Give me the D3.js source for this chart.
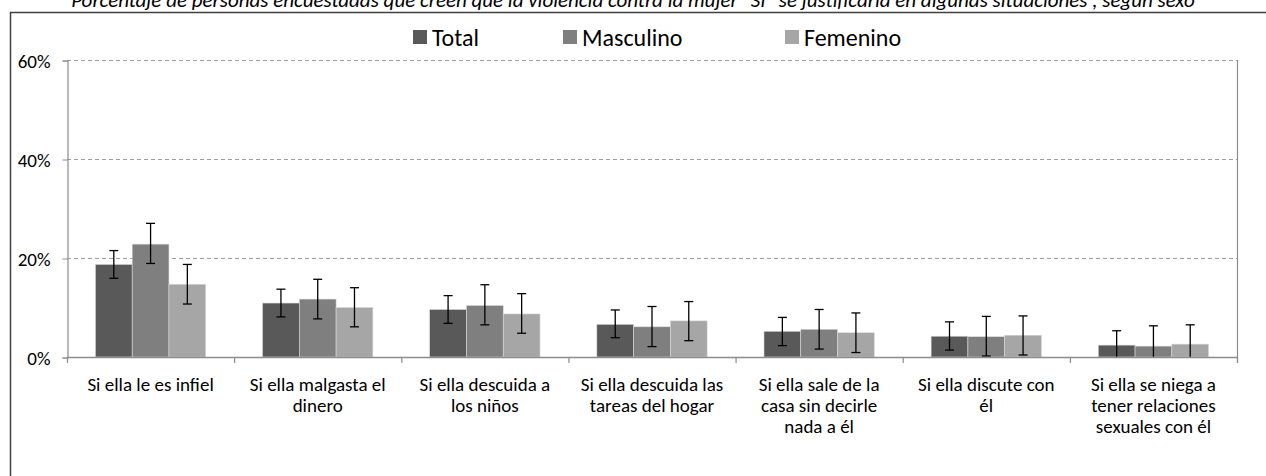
<!DOCTYPE html>
<html><head><meta charset="utf-8">
<script src="https://cdn.jsdelivr.net/npm/d3@7"></script>
<style>
body{margin:0;background:#fff;}
svg{display:block;font-family:Carlito,Calibri,Lato,"Open Sans",sans-serif;}
</style></head>
<body><svg id="c" width="1266" height="476"></svg>
<script>
const title = 'Porcentaje de personas encuestadas que creen que la violencia contra la mujer "SI" se justificaría en algunas situaciones , según sexo';
const categories = [
  "Si ella le es infiel",
  "Si ella malgasta el\ndinero",
  "Si ella descuida a\nlos niños",
  "Si ella descuida las\ntareas del hogar",
  "Si ella sale de la\ncasa sin decirle\nnada a él",
  "Si ella discute con\nél",
  "Si ella se niega a\ntener relaciones\nsexuales con él"
];
const series = ["Total", "Masculino", "Femenino"];
const total     = [18.7, 10.9, 9.6, 6.6, 5.2, 4.2, 2.4];
const masculino = [22.8, 11.7, 10.4, 6.1, 5.6, 4.1, 2.2];
const femenino  = [14.7, 10.0, 8.7, 7.3, 4.9, 4.4, 2.6];
const totalLow  = [15.9, 8.1, 6.8, 3.9, 2.3, 1.4, 0];
const totalHigh = [21.5, 13.7, 12.4, 9.5, 8.0, 7.1, 5.3];
const mascLow   = [18.9, 7.7, 6.5, 2.1, 1.6, 0.2, 0];
const mascHigh  = [27.0, 15.7, 14.6, 10.2, 9.6, 8.2, 6.3];
const femLow    = [10.7, 6.1, 4.8, 3.3, 0.9, 0.4, 0];
const femHigh   = [18.7, 14.0, 12.8, 11.2, 8.9, 8.3, 6.5];
const yTicks = [0, 20, 40, 60];
const colors = ["#595959", "#7f7f7f", "#a6a6a6"];

const values = [total, masculino, femenino];
const lows = [totalLow, mascLow, femLow];
const highs = [totalHigh, mascHigh, femHigh];

const svg = d3.select("#c");
const L = 67, R = 1237, T = 60, B = 357;

// outer border
svg.append("rect").attr("x", 10.5).attr("y", 12.5).attr("width", 1300).attr("height", 500)
  .attr("fill", "none").attr("stroke", "#404040").attr("stroke-width", 1.5);

// title
svg.append("text").attr("x", 633).attr("y", 7).attr("text-anchor", "middle")
  .attr("font-style", "italic").attr("font-size", 21).attr("fill", "#000").text(title);

const x = d3.scaleBand().domain(categories).range([L, R]).paddingInner(0.34).paddingOuter(0.17);
const xs = d3.scaleBand().domain(series).range([0, x.bandwidth()]);
const y = d3.scaleLinear().domain([0, 60]).range([B, T]);

// gridlines
svg.append("g").selectAll("line").data(yTicks.filter(d => d > 0)).join("line")
  .attr("x1", L).attr("x2", R).attr("y1", d => y(d) + 0.5).attr("y2", d => y(d) + 0.5)
  .attr("stroke", "#a0a0a0").attr("stroke-width", 1).attr("stroke-dasharray", "4,3");

// right plot border
svg.append("line").attr("x1", R + 0.5).attr("x2", R + 0.5).attr("y1", T).attr("y2", B + 6)
  .attr("stroke", "#8c8c8c").attr("stroke-width", 1.2);

// y axis
const yAxis = d3.axisLeft(y).tickValues(yTicks).tickSize(5).tickFormat(d => d + "%");
const gy = svg.append("g").attr("transform", `translate(${L + 0.5},0.5)`).call(yAxis);
gy.select(".domain").attr("stroke", "#8c8c8c").attr("stroke-width", 1.2);
gy.selectAll(".tick line").attr("stroke", "#8c8c8c");
gy.selectAll(".tick text").attr("font-size", 19).attr("fill", "#000")
  .attr("font-family", "Carlito,Calibri,Lato,sans-serif").attr("x", -17).attr("dy", "0.35em");

// bars
const step = x.step();
const groups = svg.append("g").selectAll("g").data(categories).join("g")
  .attr("transform", c => `translate(${x(c)},0)`);
groups.each(function(c, i) {
  const g = d3.select(this);
  series.forEach((s, k) => {
    const v = values[k][i];
    g.append("rect").attr("x", xs(s)).attr("width", xs.bandwidth())
      .attr("y", y(v)).attr("height", y(0) - y(v))
      .attr("fill", colors[k]).attr("stroke", "#d9d9d9").attr("stroke-width", 0.6);
  });
});

// x axis
svg.append("line").attr("x1", L).attr("x2", R + 1).attr("y1", B + 0.5).attr("y2", B + 0.5)
  .attr("stroke", "#8c8c8c").attr("stroke-width", 1.5);
svg.append("g").selectAll("line").data(d3.range(categories.length + 1)).join("line")
  .attr("x1", i => L + i * step + 0.5).attr("x2", i => L + i * step + 0.5)
  .attr("y1", B).attr("y2", B + 6).attr("stroke", "#8c8c8c").attr("stroke-width", 1.2);

// error bars
groups.each(function(c, i) {
  const g = d3.select(this);
  series.forEach((s, k) => {
    const cx = xs(s) + xs.bandwidth() / 2;
    const lo = lows[k][i], hi = highs[k][i];
    g.append("line").attr("x1", cx).attr("x2", cx).attr("y1", y(lo)).attr("y2", y(hi))
      .attr("stroke", "#000").attr("stroke-width", 1.3);
    g.append("line").attr("x1", cx - 4.5).attr("x2", cx + 4.5).attr("y1", y(hi)).attr("y2", y(hi))
      .attr("stroke", "#000").attr("stroke-width", 1.3);
    if (lo > 0) g.append("line").attr("x1", cx - 4.5).attr("x2", cx + 4.5).attr("y1", y(lo)).attr("y2", y(lo))
      .attr("stroke", "#000").attr("stroke-width", 1.3);
  });
});

// category labels
const labels = svg.append("g").selectAll("text").data(categories).join("text")
  .attr("text-anchor", "middle").attr("font-size", 19).attr("fill", "#000");
labels.each(function(c) {
  const t = d3.select(this);
  c.split("\n").forEach((line, j) => {
    t.append("tspan").attr("x", x(c) + x.bandwidth() / 2).attr("y", 391 + j * 21).text(line);
  });
});

// legend
const legX = [413, 563, 785];
const leg = svg.append("g").selectAll("g").data(series).join("g")
  .attr("transform", (s, k) => `translate(${legX[k]},0)`);
leg.append("rect").attr("x", 0).attr("y", 30).attr("width", 14).attr("height", 14)
  .attr("fill", (s, k) => colors[k]);
leg.append("text").attr("x", 19).attr("y", 46).attr("font-size", 24).attr("fill", "#000").text(s => s);
</script></body></html>
